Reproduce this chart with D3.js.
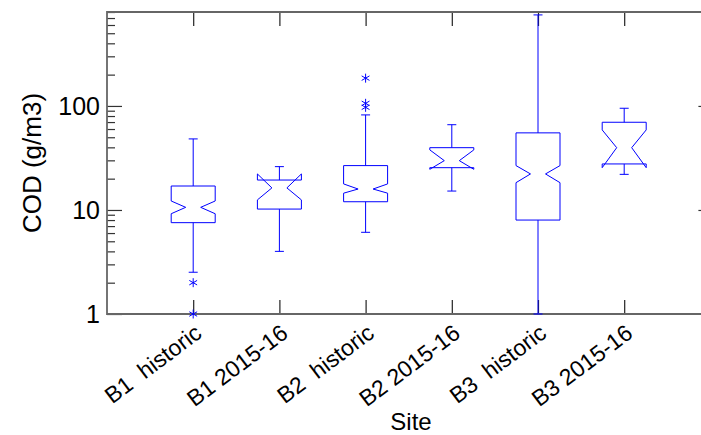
<!DOCTYPE html>
<html>
<head>
<meta charset="utf-8">
<script src="https://cdn.jsdelivr.net/npm/d3@7"></script>
<style>
  html, body { margin: 0; padding: 0; background: #fff; }
  svg { display: block; }
  text { font-family: "Liberation Sans", Arial, Helvetica, sans-serif; fill: #000; }
</style>
</head>
<body>
<svg id="chart" width="701" height="435"></svg>
<script>
// Notched box plot of COD by site and sampling period (log axis)
const categories = ["B1  historic", "B1 2015-16", "B2  historic", "B2 2015-16", "B3  historic", "B3 2015-16"];
const medians   = [10.6, 16.3, 15.9, 29.8, 22.2, 39.7];
const q1s       = [7.55, 10.2, 12.0, 25.5, 8.0, 27.7];
const q3s       = [17.0, 19.4, 26.7, 39.7, 55.1, 69.7];
const notchLos  = [9.2, 12.5, 14.5, 24.6, 18.3, 25.5];
const notchHis  = [12.2, 22.2, 17.8, 37.8, 26.7, 58.8];
const whiskLos  = [2.52, 4.0, 6.1, 15.2, 1.0, 22.0];
const whiskHis  = [48.2, 26.1, 82, 66, 750, 95];
const outliers  = [[2.0, 1.0], [], [185, 106, 97], [], [], []];
const yTickValues = [1, 10, 100];
const yTickLabels = ["1", "10", "100"];

const svg = d3.select("#chart");
const plotL = 107, plotT = 12, plotB = 314, plotR = 710.4;

const x = d3.scaleLinear().domain([0, 7]).range([plotL, plotR]);
const y = d3.scaleLog().domain([1, 800]).range([plotB, plotT]);

const blue = "#0000ff";
const frameColor = "#666";

// minor ticks: 2..9 of each decade up to 800
const minorTicks = [];
[1, 10, 100].forEach(d => { for (let k = 2; k <= 9; k++) if (d * k <= 800) minorTicks.push(d * k); });

const axes = svg.append("g");

// left axis with major and minor inward ticks
const yAxisMajor = d3.axisRight(y).tickValues(yTickValues).tickSize(15).tickFormat("");
const yAxisMinor = d3.axisRight(y).tickValues(minorTicks).tickSize(8).tickFormat("");
[yAxisMajor, yAxisMinor].forEach(ax => {
  const g = axes.append("g").attr("transform", `translate(${plotL},0)`).call(ax);
  g.select(".domain").remove();
  g.selectAll(".tick line").attr("stroke", "#333").attr("stroke-width", 1.2);
});

// right axis: major ticks only
const yAxisRight = d3.axisLeft(y).tickValues([10, 100]).tickSize(12).tickFormat("");
const gr = axes.append("g").attr("transform", `translate(${plotR},0)`).call(yAxisRight);
gr.select(".domain").remove();
gr.selectAll(".tick line").attr("stroke", "#333").attr("stroke-width", 1.2);

// top and bottom axes with category ticks pointing inward
const catIdx = categories.map((_, i) => i + 1);
const xBottom = d3.axisTop(x).tickValues(catIdx).tickSize(14).tickFormat("");
const gb = axes.append("g").attr("transform", `translate(0,${plotB})`).call(xBottom);
gb.select(".domain").remove();
gb.selectAll(".tick line").attr("stroke", "#222").attr("stroke-width", 1.2);
const xTop = d3.axisBottom(x).tickValues(catIdx).tickSize(14).tickFormat("");
const gt = axes.append("g").attr("transform", `translate(0,${plotT})`).call(xTop);
gt.select(".domain").remove();
gt.selectAll(".tick line").attr("stroke", "#222").attr("stroke-width", 1.2);

// frame
axes.append("path")
  .attr("d", `M${plotR},${plotT}H${plotL}V${plotB}H${plotR}`)
  .attr("fill", "none").attr("stroke", frameColor).attr("stroke-width", 1.8);

// y tick labels
axes.selectAll("text.ylab").data(yTickValues).join("text")
  .attr("class", "ylab")
  .attr("x", 100).attr("y", d => y(d))
  .attr("dy", "0.36em")
  .attr("text-anchor", "end")
  .attr("font-size", 25)
  .text((d, i) => yTickLabels[i]);

// x tick labels, rotated
axes.selectAll("text.xlab").data(categories).join("text")
  .attr("class", "xlab")
  .attr("text-anchor", "end")
  .attr("font-size", 23)
  .attr("transform", (d, i) => `translate(${x(i + 1) + 10},${plotB + 22}) rotate(-37)`)
  .style("white-space", "pre")
  .text(d => d);

// axis titles
svg.append("text")
  .attr("transform", `translate(41,${(plotT + plotB) / 2}) rotate(-90)`)
  .attr("text-anchor", "middle")
  .attr("font-size", 26)
  .text("COD (g/m3)");
svg.append("text")
  .attr("x", 411).attr("y", 430)
  .attr("text-anchor", "middle")
  .attr("font-size", 24)
  .text("Site");

// boxes
const halfW = 22, inset = 14.5, capHalf = 4.5;
const marks = svg.append("g").attr("fill", "none").attr("stroke", blue).attr("stroke-width", 1);

categories.forEach((c, i) => {
  const cx = x(i + 1);
  const L = cx - halfW, R = cx + halfW;
  const g = marks.append("g");
  // whiskers
  g.append("line").attr("x1", cx).attr("x2", cx).attr("y1", y(q3s[i])).attr("y2", y(whiskHis[i]));
  g.append("line").attr("x1", cx).attr("x2", cx).attr("y1", y(q1s[i])).attr("y2", y(whiskLos[i]));
  g.append("line").attr("x1", cx - capHalf).attr("x2", cx + capHalf).attr("y1", y(whiskHis[i])).attr("y2", y(whiskHis[i]));
  g.append("line").attr("x1", cx - capHalf).attr("x2", cx + capHalf).attr("y1", y(whiskLos[i])).attr("y2", y(whiskLos[i]));
  // notched box outline
  const pts = [
    [L, y(q1s[i])], [L, y(notchLos[i])], [L + inset, y(medians[i])], [L, y(notchHis[i])], [L, y(q3s[i])],
    [R, y(q3s[i])], [R, y(notchHis[i])], [R - inset, y(medians[i])], [R, y(notchLos[i])], [R, y(q1s[i])]
  ];
  g.append("path").attr("d", d3.line()(pts) + "Z");
  // outliers as asterisks
  outliers[i].forEach(v => {
    const oy = y(v), s = 4.5, dx = s * 0.87, dy = s * 0.5;
    g.append("path")
      .attr("d", `M${cx},${oy - s}V${oy + s}M${cx - dx},${oy - dy}L${cx + dx},${oy + dy}M${cx - dx},${oy + dy}L${cx + dx},${oy - dy}`);
  });
});
</script>
</body>
</html>
